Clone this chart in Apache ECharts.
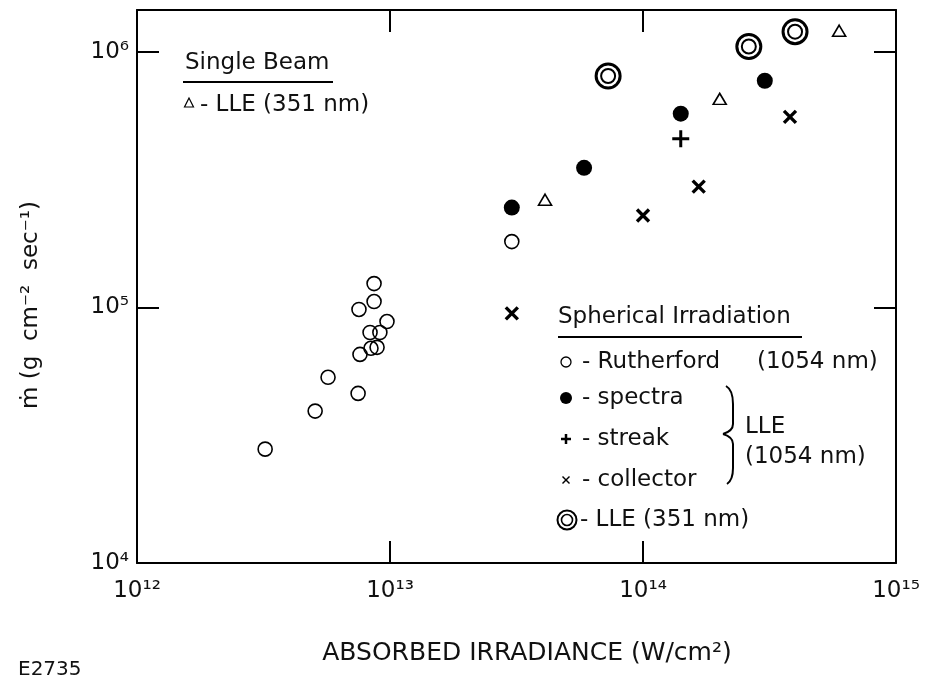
<!DOCTYPE html>
<html><head><meta charset="utf-8">
<script src="https://cdn.jsdelivr.net/npm/echarts@6/dist/echarts.min.js"></script>
<style>html,body{margin:0;padding:0;background:#fff}#c{width:927px;height:681px}</style>
</head><body><div id="c"></div>
<script>
// ---- data ----
const xTicks = [1e12, 1e13, 1e14, 1e15];
const yTicks = [1e4, 1e5, 1e6];
const rutherfordX = [3.21e12, 5.06e12, 5.69e12, 7.48e12, 7.61e12, 8.41e12, 8.89e12, 8.34e12, 9.12e12, 9.73e12, 7.54e12, 8.65e12, 8.65e12, 3.03e13];
const rutherfordY = [2.79e4, 3.93e4, 5.33e4, 4.61e4, 6.55e4, 6.92e4, 6.98e4, 7.98e4, 7.98e4, 8.81e4, 9.82e4, 1.055e5, 1.24e5, 1.81e5];
const spectraX = [3.03e13, 5.85e13, 1.41e14, 3.03e14];
const spectraY = [2.46e5, 3.52e5, 5.73e5, 7.71e5];
const streakX = [1.41e14];
const streakY = [4.57e5];
const collectorX = [3.03e13, 1.0e14, 1.66e14, 3.81e14];
const collectorY = [9.48e4, 2.29e5, 2.97e5, 5.57e5];
const singleBeamX = [4.10e13, 2.01e14, 5.96e14];
const singleBeamY = [2.64e5, 6.55e5, 1.21e6];
const lle351X = [7.28e13, 2.62e14, 3.99e14];
const lle351Y = [8.05e5, 1.05e6, 1.20e6];

const zip = (a, b) => a.map((v, i) => [v, b[i]]);
const FONT = 'DejaVu Sans';
const INK = '#111';
const yMax = Math.pow(10, 6.164);
const SUP = { '0': '\u2070', '1': '\u00B9', '2': '\u00B2', '3': '\u00B3', '4': '\u2074', '5': '\u2075', '6': '\u2076', '7': '\u2077', '8': '\u2078', '9': '\u2079', '-': '\u207B' };
const sup = s => String(s).split('').map(c => SUP[c] || c).join('');

function isPow10(v) { const e = Math.log10(v); return Math.abs(e - Math.round(e)) < 1e-6; }
function powLabel(v) {
  if (!isPow10(v)) return '';
  return '10' + sup(Math.round(Math.log10(v)));
}
const lineStyle = { color: '#000', width: 2 };

const chart = echarts.init(document.getElementById('c'), null, { renderer: 'canvas' });

const X_PATH = 'path://M0,0L10,10M10,0L0,10';
const PLUS_PATH = 'path://M5,0L5,10M0,5L10,5';
const TXT = (x, y, t) => ({ type: 'text', x: x, y: y,
  style: { text: t, fontSize: 23, fontFamily: FONT, fill: INK, verticalAlign: 'middle' } });
const LN = (x1, y1, x2, y2, w) => ({ type: 'line', shape: { x1, y1, x2, y2 }, style: { stroke: '#000', lineWidth: w } });
const BZ = (x1, y1, cx, cy, x2, y2) => ({ type: 'bezierCurve', shape: { x1, y1, cpx1: cx, cpy1: cy, x2, y2 },
  style: { fill: 'none', stroke: '#000', lineWidth: 2 } });

const axisLabelBase = { formatter: powLabel, fontFamily: FONT, fontSize: 23, color: INK };

const option = {
  backgroundColor: '#fff',
  animation: false,
  grid: { left: 137, right: 31, top: 10, bottom: 118 },
  xAxis: [
    { type: 'log', logBase: 10, min: 1e12, max: 1e15, interval: 1, position: 'bottom',
      axisLine: { show: true, lineStyle: lineStyle },
      axisTick: { show: true, inside: true, length: 22, lineStyle: lineStyle },
      axisLabel: Object.assign({ margin: 17, showMinLabel: true, showMaxLabel: true }, axisLabelBase),
      splitLine: { show: false } },
    { type: 'log', logBase: 10, min: 1e12, max: 1e15, interval: 1, position: 'top',
      axisLine: { show: true, lineStyle: lineStyle },
      axisTick: { show: true, inside: true, length: 22, lineStyle: lineStyle },
      axisLabel: { show: false }, splitLine: { show: false } }
  ],
  yAxis: [
    { type: 'log', logBase: 10, min: 1e4, max: yMax, position: 'left',
      axisLine: { show: true, lineStyle: lineStyle },
      axisTick: { show: true, inside: true, length: 22, lineStyle: lineStyle },
      axisLabel: Object.assign({ margin: 8, showMinLabel: true, padding: [6, 0, 0, 0] }, axisLabelBase),
      splitLine: { show: false } },
    { type: 'log', logBase: 10, min: 1e4, max: yMax, position: 'right',
      axisLine: { show: true, lineStyle: lineStyle },
      axisTick: { show: true, inside: true, length: 22, lineStyle: lineStyle },
      axisLabel: { show: false }, splitLine: { show: false } }
  ],
  series: [
    { name: 'Rutherford', type: 'scatter', data: zip(rutherfordX, rutherfordY), symbol: 'circle', symbolSize: 14,
      itemStyle: { color: 'rgba(255,255,255,0)', borderColor: '#000', borderWidth: 1.6, opacity: 1 } },
    { name: 'spectra', type: 'scatter', data: zip(spectraX, spectraY), symbol: 'circle', symbolSize: 16,
      itemStyle: { color: '#000', opacity: 1 } },
    { name: 'streak', type: 'scatter', data: zip(streakX, streakY), symbol: PLUS_PATH, symbolSize: 17,
      itemStyle: { color: 'none', borderColor: '#000', borderWidth: 3, opacity: 1 } },
    { name: 'collector', type: 'scatter', data: zip(collectorX, collectorY), symbol: X_PATH, symbolSize: 12,
      itemStyle: { color: 'none', borderColor: '#000', borderWidth: 3.4, opacity: 1 } },
    { name: 'Single Beam LLE 351', type: 'scatter', data: zip(singleBeamX, singleBeamY), symbol: 'triangle', symbolSize: [13, 11],
      itemStyle: { color: '#fff', borderColor: '#000', borderWidth: 1.6, opacity: 1 } },
    { name: 'LLE 351 outer', type: 'scatter', data: zip(lle351X, lle351Y), symbol: 'circle', symbolSize: 24,
      itemStyle: { color: '#fff', borderColor: '#000', borderWidth: 3, opacity: 1 } },
    { name: 'LLE 351 inner', type: 'scatter', data: zip(lle351X, lle351Y), symbol: 'circle', symbolSize: 14,
      itemStyle: { color: '#fff', borderColor: '#000', borderWidth: 2, opacity: 1 }, z: 3 }
  ],
  graphic: { elements: [
    // Single beam legend
    TXT(185, 63, 'Single Beam'),
    LN(183, 82, 333, 82, 2),
    { type: 'polygon', shape: { points: [[189, 98], [184.5, 107], [193.5, 107]] }, style: { fill: '#fff', stroke: '#000', lineWidth: 1.2 } },
    TXT(200, 105, '- LLE (351 nm)'),

    // Spherical legend
    TXT(558, 317, 'Spherical Irradiation'),
    LN(558, 337, 802, 337, 2),
    { type: 'circle', shape: { cx: 566, cy: 362, r: 5 }, style: { fill: '#fff', stroke: '#000', lineWidth: 1.3 } },
    TXT(582, 362, '- Rutherford'),
    TXT(757, 362, '(1054 nm)'),
    { type: 'circle', shape: { cx: 566, cy: 398, r: 6 }, style: { fill: '#000' } },
    TXT(582, 398, '- spectra'),
    LN(561, 439, 571, 439, 2.5),
    LN(566, 434, 566, 444, 2.5),
    TXT(582, 439, '- streak'),
    LN(562.5, 476.5, 569.5, 483.5, 1.4),
    LN(569.5, 476.5, 562.5, 483.5, 1.4),
    TXT(582, 480, '- collector'),
    { type: 'circle', shape: { cx: 567, cy: 520, r: 9.5 }, style: { fill: '#fff', stroke: '#000', lineWidth: 2 } },
    { type: 'circle', shape: { cx: 567, cy: 520, r: 5.5 }, style: { fill: '#fff', stroke: '#000', lineWidth: 1.6 } },
    TXT(580, 520, '- LLE (351 nm)'),
    // brace
    BZ(726, 386, 733, 390, 733, 404),
    LN(733, 404, 733, 424, 2),
    BZ(733, 424, 733, 431, 723, 434),
    BZ(723, 434, 733, 437, 733, 444),
    LN(733, 444, 733, 468, 2),
    BZ(733, 468, 733, 480, 727, 484),
    TXT(745, 427, 'LLE'),
    TXT(745, 457, '(1054 nm)'),

    // axis titles
    { type: 'text', x: 527, y: 653, style: {
        text: 'ABSORBED IRRADIANCE (W/cm' + sup('2') + ')', fontSize: 25, fontFamily: FONT, fill: INK, align: 'center', verticalAlign: 'middle' } },
    { type: 'text', x: 31, y: 305, rotation: Math.PI / 2, style: {
        text: '\u1E41 (g  cm' + sup('-2') + '  sec' + sup('-1') + ')', fontSize: 23, fontFamily: FONT, fill: INK, align: 'center', verticalAlign: 'middle' } },
    { type: 'text', x: 18, y: 670, style: { text: 'E2735', fontSize: 20, fontFamily: FONT, fill: INK, verticalAlign: 'middle' } }
  ] }
};
chart.setOption(option);
</script></body></html>
